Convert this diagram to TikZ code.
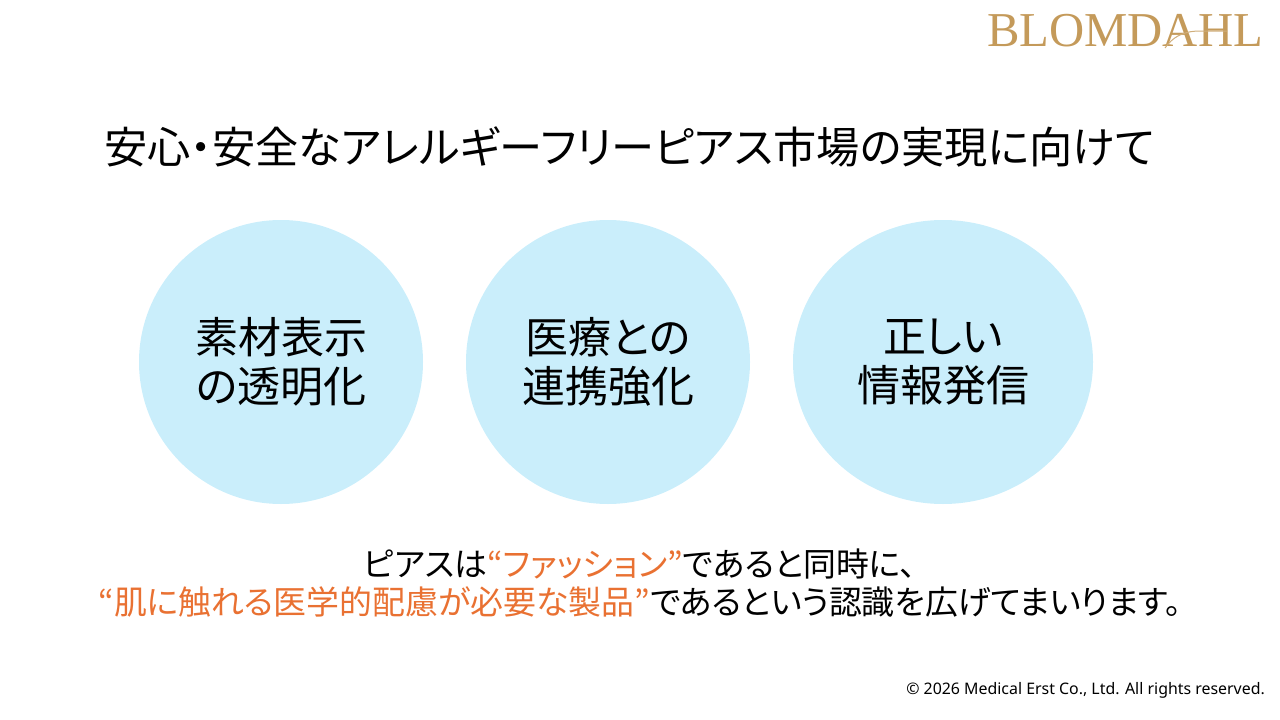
\documentclass[tikz,border=0pt]{standalone}
\usepackage{fontspec}
\usepackage{xcolor}
\setmainfont[RawFeature=+palt]{Noto Sans CJK JP}
\newfontfamily\latinfont{Liberation Serif}
\newfontfamily\notefont{Noto Sans}
\definecolor{circleblue}{HTML}{CAEEFB}
\definecolor{accentorange}{HTML}{E97132}
\definecolor{logogold}{HTML}{C49A5A}
\usetikzlibrary{positioning,shapes.geometric}

\begin{document}
\begin{tikzpicture}[
        x=1pt, y=-1pt,
        topic/.style={ellipse, fill=circleblue, inner sep=0pt, align=center, minimum height=284, font=\fontsize{43}{49.5}\selectfont}
    ]
        \useasboundingbox (0,0) rectangle (1280,720);
        \node[font=\latinfont\fontsize{48.7}{48.7}\selectfont, text=logogold] (logo) at (1125,31) {BLOMDAHL};
        \draw[logogold!80, line width=1] (1165,48) .. controls (1172,38) and (1182,31) .. (1200,31) -- (1227,31);
        \node[font=\fontsize{43.2}{46}\selectfont] (title) at (629.5,147) {安心・安全なアレルギーフリーピアス市場の実現に向けて};

        \node[topic, minimum width=284] (material) at (281,362) {素材表示\\の透明化};
        \node[topic, minimum width=284] (medical) at (608,362) {医療との\\連携強化};
        \node[topic, minimum width=300] (info) at (943,362) {正しい\\情報発信};

        \node[font=\fontsize{32.9}{38}\selectfont, align=center] (message) at (640,583) {ピアスは\textcolor{accentorange}{“ファッション”}であると同時に、\\\textcolor{accentorange}{“肌に触れる医学的配慮が必要な製品”}であるという認識を広げてまいります。};
        \node[font=\notefont\fontsize{15.9}{18}\selectfont, anchor=east, inner sep=0pt] (copyright) at (1265,690) {© 2026 Medical Erst Co., Ltd. All rights reserved.};
    \end{tikzpicture}
\end{document}
